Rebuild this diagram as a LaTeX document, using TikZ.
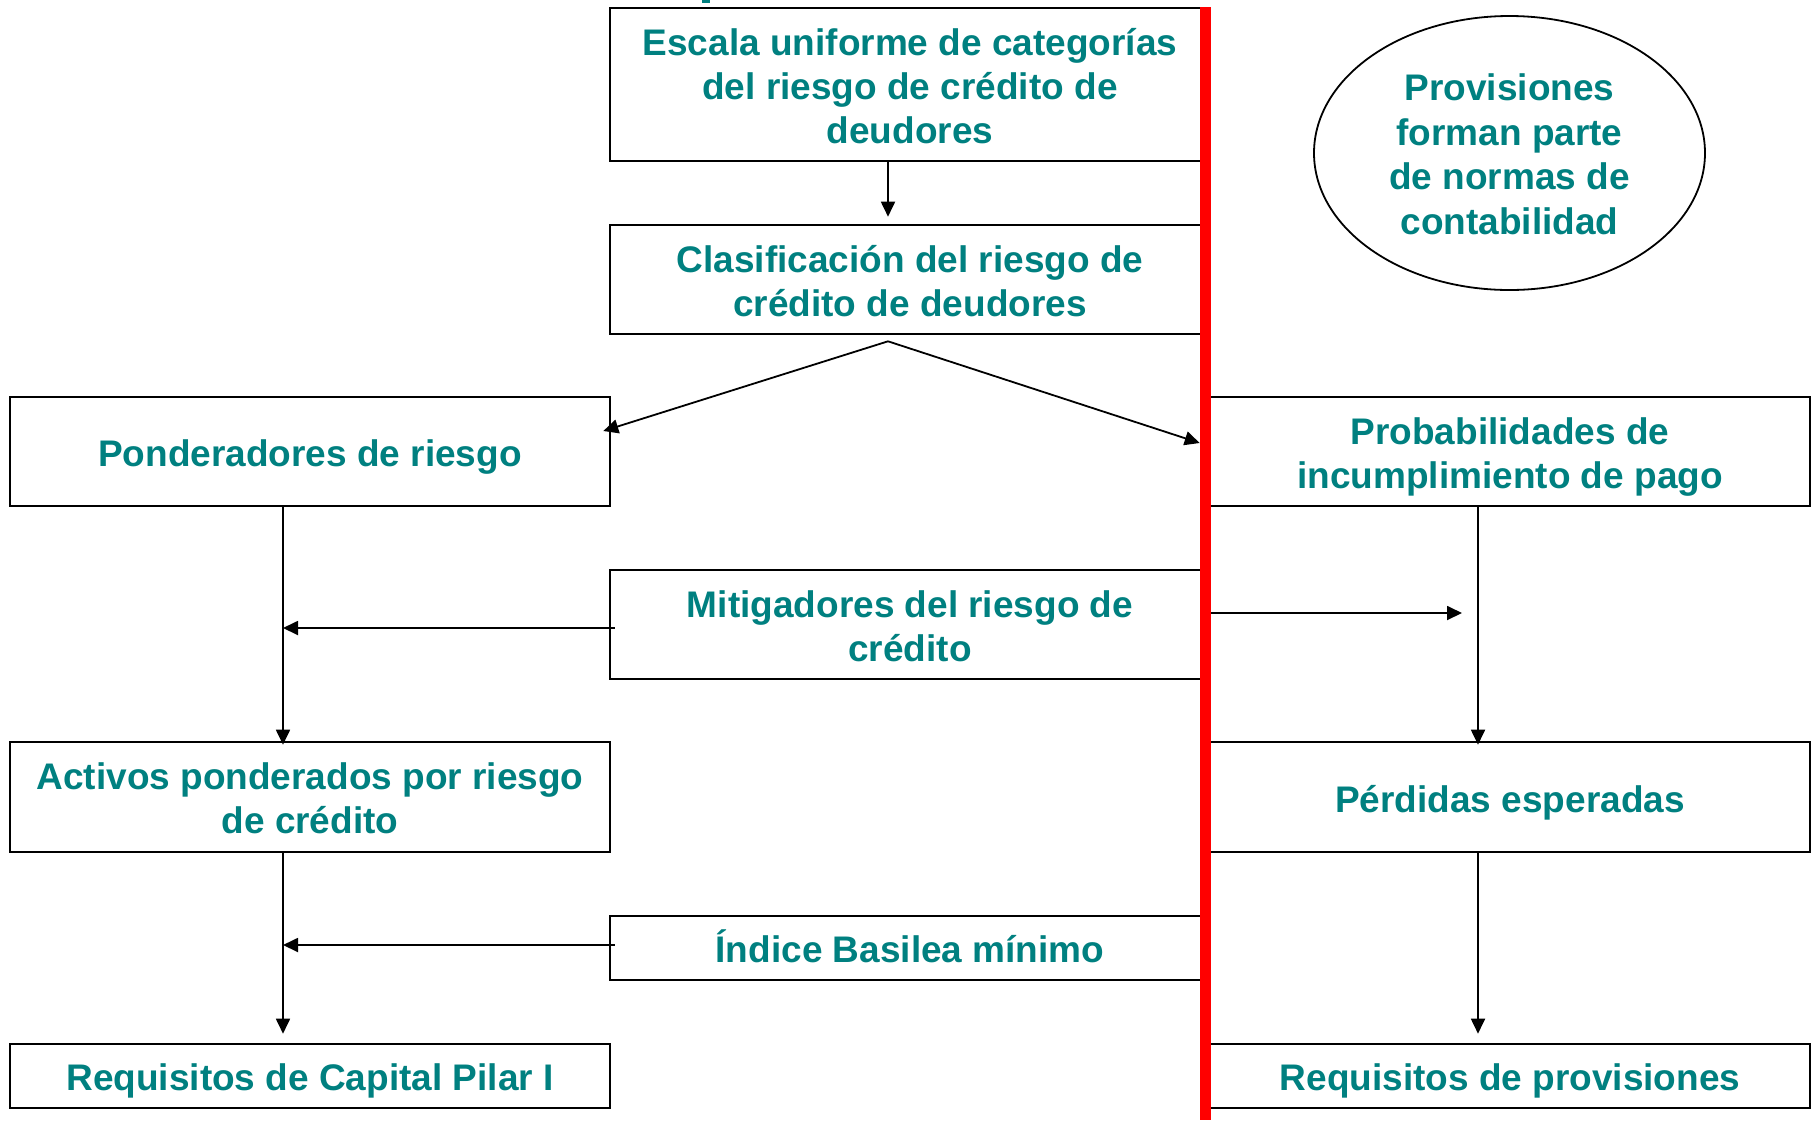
\documentclass[tikz,border=0pt]{standalone}
\usepackage{fontspec}
\setmainfont{Liberation Sans}
\usetikzlibrary{arrows.meta,shapes.geometric}
\definecolor{tealtext}{RGB}{0,128,128}
\definecolor{redline}{RGB}{255,0,0}
\tikzset{
  x=0.5pt, y=-0.5pt,
  box/.style={draw=black, line width=1.3pt, fill=white, minimum width=300pt, inner sep=0pt},
  txt/.style={inner sep=0pt, align=center, text=tealtext, font=\fontsize{18.5}{22}\selectfont\bfseries},
  oval/.style={draw=black, line width=0.9pt, ellipse, minimum width=195.5pt, minimum height=137pt, inner sep=0pt},
  arr/.style={draw=black, line width=0.9pt, -{Triangle[length=7.5pt,width=7pt]}},
}
\begin{document}
\begin{tikzpicture}
\useasboundingbox (0,0) rectangle (1816,1120);
\fill[white] (0,0) rectangle (1816,1120);
% small fragment at the top edge
\fill[tealtext] (702,0) rectangle (710,2.5);

% boxes
\node[box, minimum height=76.5pt] (esc) at (910,84.5) {};
\node[box, minimum height=54.5pt] (cla) at (910,279.5) {};
\node[box, minimum height=54.5pt] (pon) at (310,451.5) {};
\node[box, minimum height=54.5pt] (pro) at (1510,451.5) {};
\node[box, minimum height=54.5pt] (mit) at (910,624.5) {};
\node[box, minimum height=55pt] (act) at (310,797) {};
\node[box, minimum height=55pt] (per) at (1510,797) {};
\node[box, minimum height=32pt] (ind) at (910,948) {};
\node[box, minimum height=32pt] (rcap) at (310,1076) {};
\node[box, minimum height=32pt] (rprov) at (1510,1076) {};
\node[oval] (provnorm) at (1509.5,153) {};

% texts
\node[txt] (esc-t) at ([yshift=-0.6pt]esc.center) {Escala uniforme de categorías\\del riesgo de crédito de\\deudores};
\node[txt] (cla-t) at ([yshift=-0.9pt]cla.center) {Clasificación del riesgo de\\crédito de deudores};
\node[txt] (pon-t) at ([yshift=-2.9pt]pon.center) {Ponderadores de riesgo};
\node[txt] (pro-t) at ([yshift=-2.9pt]pro.center) {Probabilidades de\\incumplimiento de pago};
\node[txt] (mit-t) at ([yshift=-0.9pt]mit.center) {Mitigadores del riesgo de\\crédito};
\node[txt] (act-t) at ([yshift=-0.6pt]act.center) {Activos ponderados por riesgo\\de crédito};
\node[txt] (per-t) at ([yshift=-2.9pt]per.center) {Pérdidas esperadas};
\node[txt] (ind-t) at ([yshift=1.1pt]ind.center) {Índice Basilea mínimo};
\node[txt] (rcap-t) at ([yshift=-2.3pt]rcap.center) {Requisitos de Capital Pilar I};
\node[txt] (rprov-t) at ([yshift=-2.3pt]rprov.center) {Requisitos de provisiones};
\node[txt, font=\fontsize{18.5}{22.3}\selectfont\bfseries] (provnorm-t) at ([yshift=-0.6pt]provnorm.center) {Provisiones\\forman parte\\de normas de\\contabilidad};

% connectors
\draw[arr] ([xshift=-11pt]esc.south) -- ([xshift=-11pt,yshift=3.5pt]cla.north);
\coordinate (apex) at ([xshift=-11pt,yshift=-3pt]cla.south);
\draw[arr] (apex) -- ([xshift=-4pt,yshift=10.25pt]pon.east);
\draw[arr] (apex) -- ([xshift=-4.5pt,yshift=4.25pt]pro.west);
\draw[arr] ([xshift=-13.5pt]pon.south) -- ([xshift=-13.5pt,yshift=-2pt]act.north);
\draw[arr] ([xshift=-16pt]pro.south) -- ([xshift=-16pt,yshift=-2pt]per.north);
\draw[arr] ([xshift=3pt,yshift=-1.75pt]mit.west) -- ([xshift=-13.5pt,yshift=-1.75pt]mit.west -| pon.south);
\coordinate (mitend) at (1462,613);
\draw[arr] ([yshift=5.75pt]mit.east) -- (mitend);
\draw[arr] ([xshift=-13.5pt]act.south) -- ([xshift=-13.5pt,yshift=4.5pt]rcap.north);
\draw[arr] ([xshift=-16pt]per.south) -- ([xshift=-16pt,yshift=4.5pt]rprov.north);
\draw[arr] ([xshift=3pt,yshift=1.5pt]ind.west) -- ([xshift=-13.5pt,yshift=1.5pt]ind.west -| act.south);

% red dividing line
\fill[redline] (1200,7) rectangle (1211,1120);
\end{tikzpicture}
\end{document}
